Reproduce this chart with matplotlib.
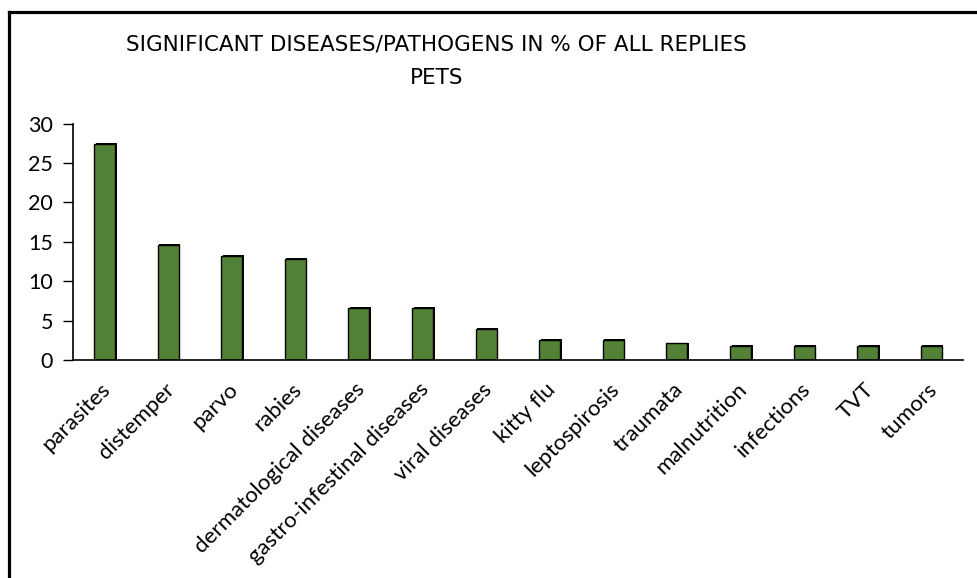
"""Significant diseases/pathogens among pets, share of all replies."""

import matplotlib
matplotlib.use("Agg")
import matplotlib.pyplot as plt
import matplotlib.patheffects as pe
from matplotlib.lines import Line2D
from matplotlib.transforms import ScaledTranslation

categories = [
    "parasites", "distemper", "parvo", "rabies", "dermatological diseases",
    "gastro-infestinal diseases", "viral diseases", "kitty flu", "leptospirosis",
    "traumata", "malnutrition", "infections", "TVT", "tumors",
]
shares = [27.4, 14.6, 13.2, 12.8, 6.6, 6.6, 3.9, 2.6, 2.6, 2.1, 1.8, 1.8, 1.8, 1.8]
y_ticks = [0, 5, 10, 15, 20, 25, 30]

TITLE_LINE1 = "SIGNIFICANT DISEASES/PATHOGENS IN % OF ALL REPLIES"
TITLE_LINE2 = "PETS"
BAR_GREEN = "#538135"

plt.rcParams["font.family"] = ["Lato", "DejaVu Sans"]

fig = plt.figure(figsize=(9.78, 5.78), dpi=100)
ax = fig.add_axes([0.0743, 0.3772, 0.9104, 0.4088])

x = range(len(categories))
bars = ax.bar(x, shares, width=0.33, color=BAR_GREEN, edgecolor="black", linewidth=1.0)
# thin dark shadow on the top/right edge, like the original office chart
shadow = [pe.SimplePatchShadow(offset=(1.2, 0.6), shadow_rgbFace="black", alpha=1.0), pe.Normal()]
for b in bars:
    b.set_path_effects(shadow)

ax.set_xlim(-0.5, len(categories) - 0.5)
ax.set_ylim(0, 30)
ax.set_yticks(y_ticks)
ax.set_yticklabels([str(v) for v in y_ticks], fontsize=15.5)
ax.set_xticks(list(x))
ax.set_xticklabels(categories, rotation=45, ha="right", va="center",
                   rotation_mode="anchor", fontsize=16)
ax.tick_params(axis="x", length=0, pad=19)
ax.tick_params(axis="y", length=7, width=1, pad=7)
shift = ScaledTranslation(3 / 100, 0, fig.dpi_scale_trans)
for lbl in ax.get_xticklabels():
    lbl.set_transform(lbl.get_transform() + shift)
for side in ("top", "right"):
    ax.spines[side].set_visible(False)
for side in ("left", "bottom"):
    ax.spines[side].set_linewidth(1.2)
    ax.spines[side].set_zorder(3)

fig.text(0.446, 1 - 44 / 578, TITLE_LINE1, ha="center", va="center",
         fontsize=15.5, family="DejaVu Sans")
fig.text(0.446, 1 - 77.5 / 578, TITLE_LINE2, ha="center", va="center",
         fontsize=15.5, family="DejaVu Sans")

# outer frame: only top and left edges are visible in the crop
fig.add_artist(Line2D([0.0097, 1.0], [0.9792, 0.9792], transform=fig.transFigure,
                      color="black", linewidth=2.3))
fig.add_artist(Line2D([0.0097, 0.0097], [0.0, 0.9792], transform=fig.transFigure,
                      color="black", linewidth=2.3))

fig.savefig("out.png", dpi=100)
